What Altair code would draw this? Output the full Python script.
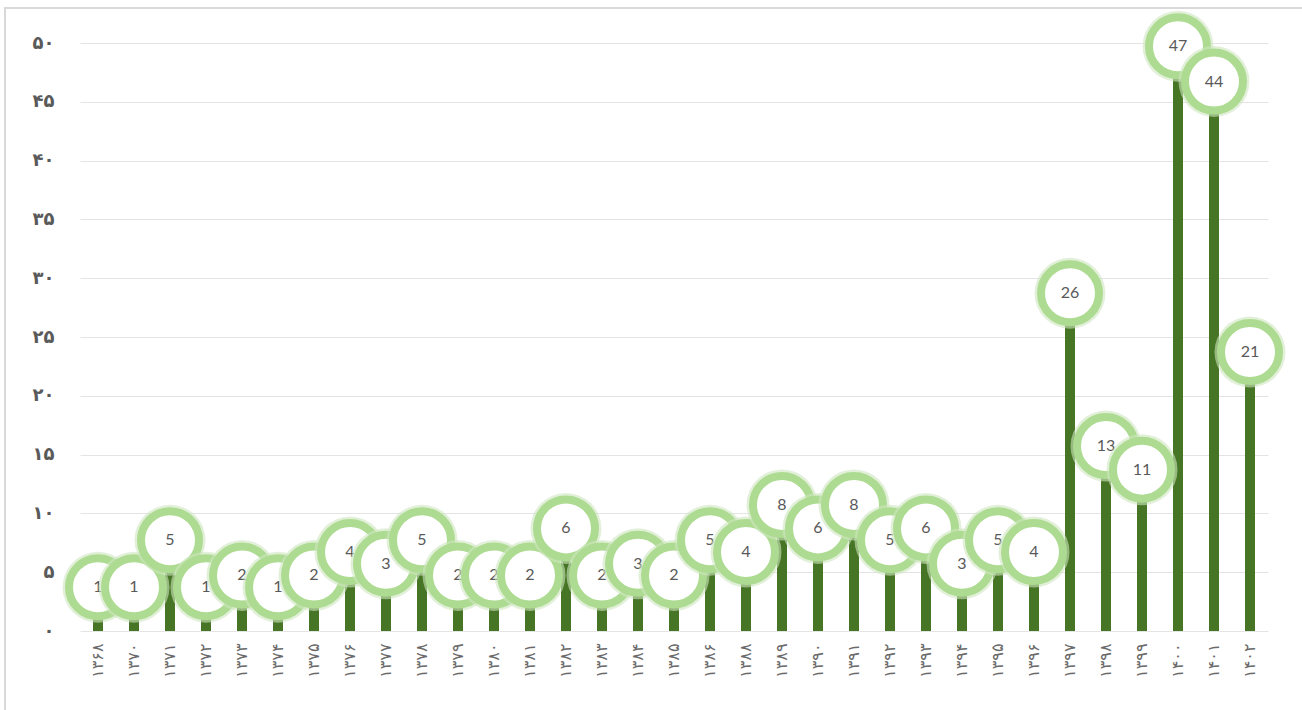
import altair as alt
import pandas as pd

# Yearly counts (Solar Hijri years)
years = ["۱۳۶۸", "۱۳۷۰", "۱۳۷۱", "۱۳۷۲", "۱۳۷۳", "۱۳۷۴", "۱۳۷۵", "۱۳۷۶", "۱۳۷۷",
         "۱۳۷۸", "۱۳۷۹", "۱۳۸۰", "۱۳۸۱", "۱۳۸۲", "۱۳۸۳", "۱۳۸۴", "۱۳۸۵", "۱۳۸۶",
         "۱۳۸۸", "۱۳۸۹", "۱۳۹۰", "۱۳۹۱", "۱۳۹۲", "۱۳۹۳", "۱۳۹۴", "۱۳۹۵", "۱۳۹۶",
         "۱۳۹۷", "۱۳۹۸", "۱۳۹۹", "۱۴۰۰", "۱۴۰۱", "۱۴۰۲"]
counts = [1, 1, 5, 1, 2, 1, 2, 4, 3, 5, 2, 2, 2, 6, 2, 3, 2, 5,
          4, 8, 6, 8, 5, 6, 3, 5, 4, 26, 13, 11, 47, 44, 21]

y_ticks = [0, 5, 10, 15, 20, 25, 30, 35, 40, 45, 50]
y_tick_labels = ["۰", "۵", "۱۰", "۱۵", "۲۰", "۲۵", "۳۰", "۳۵", "۴۰", "۴۵", "۵۰"]

df = pd.DataFrame({"year": years, "count": counts, "i": list(range(len(years)))})

label_array = "[" + ",".join("'" + s + "'" for s in y_tick_labels) + "]"

x_enc = alt.X(
    "year:N",
    sort=years,
    title=None,
    scale=alt.Scale(paddingInner=0, paddingOuter=0),
    axis=alt.Axis(labelAngle=270, domain=False, ticks=False, labelPadding=12,
                  labelFontSize=16, labelColor="#6a6a6a", labelFont="DejaVu Sans"),
)
y_enc = alt.Y(
    "count:Q",
    title=None,
    scale=alt.Scale(domain=[0, 50], nice=False),
    axis=alt.Axis(values=y_ticks, labelExpr=label_array + "[round(datum.value / 5)]",
                  grid=True, gridColor="#e4e4e4", domain=False, ticks=False,
                  labelPadding=26, labelFontSize=18, labelColor="#5a5a5a",
                  labelFont="DejaVu Sans", labelFontWeight="bold"),
)

base = alt.Chart(df).encode(x=x_enc, y=y_enc)

bars = base.mark_bar(size=10, color="#467526")

OFFSET = -32
layers = [bars]
# each label bubble is drawn in year order so later bubbles sit on top
for k in range(len(years)):
    sub = base.transform_filter(alt.datum.i == k)
    glow = sub.mark_point(shape="circle", filled=True, size=71 * 71, color="#cfe6bf",
                          opacity=0.6, yOffset=OFFSET)
    ring = sub.mark_point(shape="circle", filled=False, size=58 * 58, fill="white",
                          fillOpacity=1, stroke="#addb91", strokeWidth=8, opacity=1,
                          yOffset=OFFSET)
    txt = sub.mark_text(fontSize=16, color="#595959", font="Lato", dy=OFFSET,
                        baseline="middle").encode(text="count:Q")
    layers += [glow, ring, txt]

frame = alt.Chart(df).mark_rect(fill=None, stroke="#d9d9d9", strokeWidth=2).encode(
    x=alt.value(-75), x2=alt.value(1300), y=alt.value(-35), y2=alt.value(700)
)

chart = alt.layer(frame, *layers).properties(
    width=1188, height=588,
    padding={"left": 80, "top": 43, "right": 34, "bottom": 79},
    autosize=alt.AutoSizeParams(type="none"),
    background="white",
).configure_view(stroke=None)

chart.save("out.html", embed_options={"renderer": "svg", "actions": False})
